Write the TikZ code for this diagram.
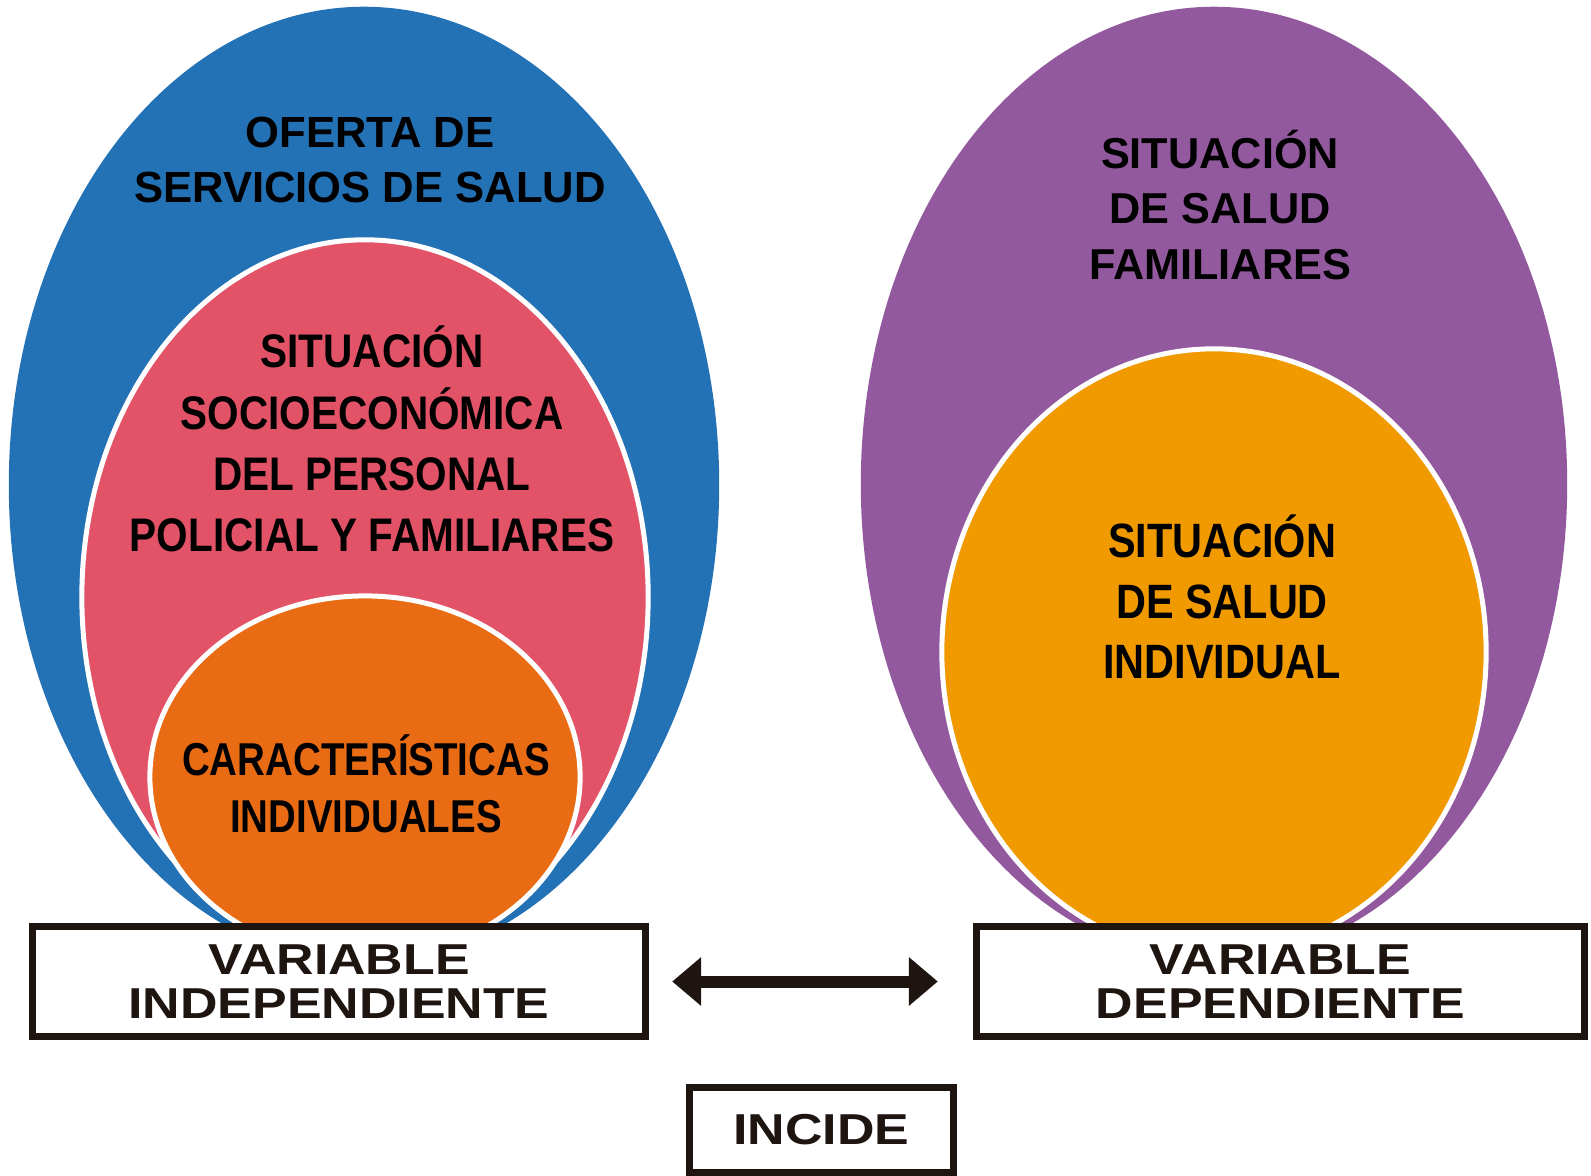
\documentclass[tikz,border=0pt]{standalone}
\usepackage{fontspec}
\setmainfont{Liberation Sans}
\newfontfamily\slimfont[FakeStretch=0.86]{Liberation Sans}
\newfontfamily\slimmerfont[FakeStretch=0.835]{Liberation Sans}
\newfontfamily\widefont[FakeStretch=1.2]{Liberation Sans}
\usetikzlibrary{arrows.meta}
\definecolor{ofertablue}{HTML}{2372B6}
\definecolor{socioRed}{HTML}{E35368}
\definecolor{caracOrange}{HTML}{E96C14}
\definecolor{familiaPurple}{HTML}{93599E}
\definecolor{indivOrange}{HTML}{F09A00}
\definecolor{boxdark}{HTML}{1E1410}
\tikzset{
  ring/.style={draw=white, line width=0.05cm},
  txt/.style={align=center, inner sep=0pt},
  varbox/.style={draw=boxdark, line width=0.07cm, fill=white, align=center,
    inner sep=0pt, text=boxdark, font=\widefont\bfseries\fontsize{12.3}{12.5}\selectfont},
  incidearrow/.tip={Triangle[length=0.29cm, width=0.47cm]}
}
\begin{document}
\begin{tikzpicture}[x=0.01cm, y=-0.01cm]
  \useasboundingbox (0,0) rectangle (1591,1176);
  \fill[ofertablue] (364,485) ellipse [x radius=3.55cm, y radius=4.78cm];
  \path[fill=socioRed, ring] (365,597) ellipse [x radius=2.83cm, y radius=3.57cm];
  \path[fill=caracOrange, ring] (365,777) ellipse [x radius=2.15cm, y radius=1.81cm];
  \fill[familiaPurple] (1214,484) ellipse [x radius=3.53cm, y radius=4.77cm];
  \path[fill=indivOrange, ring] (1214,652) ellipse [x radius=2.72cm, y radius=3.03cm];

  \node[txt, font=\bfseries\fontsize{12.4}{15.9}\selectfont] (oferta) at (370,160)
    {OFERTA DE\\SERVICIOS DE SALUD};
  \node[txt, font=\slimfont\bfseries\fontsize{13.4}{17.4}\selectfont] (socio) at (372,439)
    {SITUACIÓN\\SOCIOECONÓMICA\\DEL PERSONAL\\POLICIAL Y FAMILIARES};
  \node[txt, font=\slimmerfont\bfseries\fontsize{13.1}{16.2}\selectfont] (carac) at (366,784)
    {CARACTERÍSTICAS\\INDIVIDUALES};
  \node[txt, font=\bfseries\fontsize{12.3}{15.9}\selectfont] (familia) at (1220,205)
    {SITUACIÓN\\DE SALUD\\FAMILIARES};
  \node[txt, font=\slimfont\bfseries\fontsize{13.7}{17.2}\selectfont] (indiv) at (1222,597)
    {SITUACIÓN\\DE SALUD\\INDIVIDUAL};

  \node[varbox, minimum width=6.13cm, minimum height=1.10cm] (vi) at (339,981.5)
    {VARIABLE\\INDEPENDIENTE};
  \node[varbox, minimum width=6.08cm, minimum height=1.10cm] (vd) at (1280.5,981.5)
    {VARIABLE\\DEPENDIENTE};
  \node[varbox, minimum width=2.64cm, minimum height=0.85cm] (incide) at (821.5,1130)
    {INCIDE};

  \draw[boxdark, line width=0.12cm, incidearrow-incidearrow,
    shorten <=0.23cm, shorten >=0.35cm] (vi.east) -- (vd.west);
\end{tikzpicture}
\end{document}
